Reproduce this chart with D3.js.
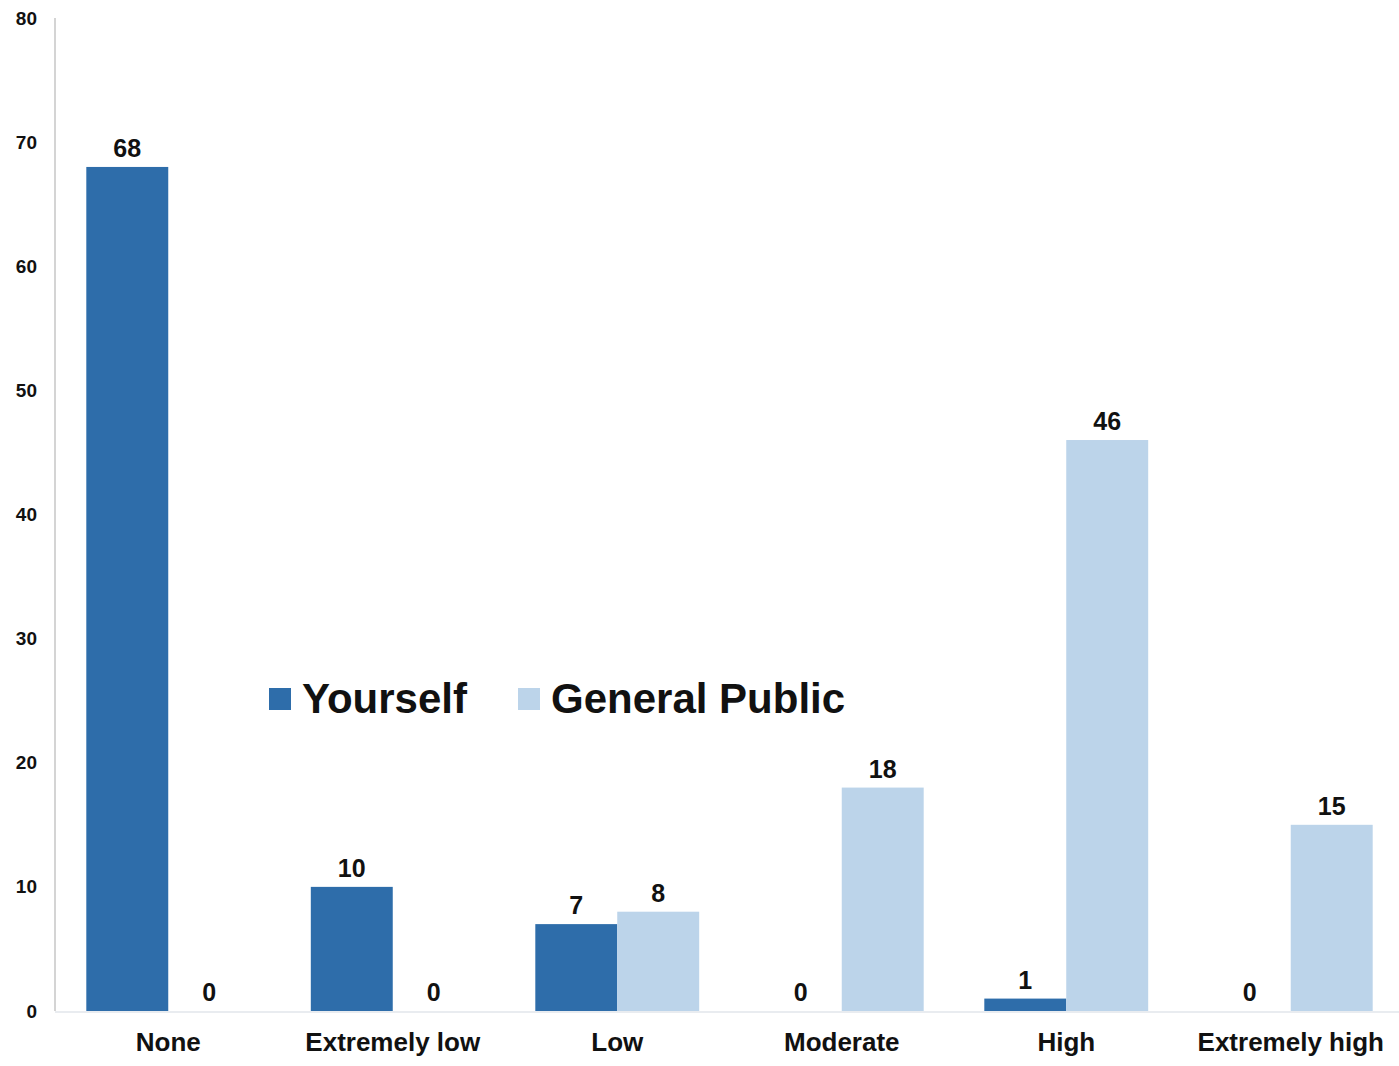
<!DOCTYPE html>
<html>
<head>
<meta charset="utf-8">
<script src="https://cdn.jsdelivr.net/npm/d3@7"></script>
<style>
  body { margin: 0; background: #fff; }
  text { font-family: 'Liberation Sans', Arial, sans-serif; font-weight: bold; fill: #111; }
</style>
</head>
<body>
<div id="chart"></div>
<script>
const categories = ['None', 'Extremely low', 'Low', 'Moderate', 'High', 'Extremely high']
const seriesNames = ['Yourself', 'General Public']
const yourself = [68, 10, 7, 0, 1, 0]
const generalPublic = [0, 0, 8, 18, 46, 15]
const yTicks = [0, 10, 20, 30, 40, 50, 60, 70, 80]
const colors = ['#2e6daa', '#bcd4ea']

const W = 1399
const H = 1066

const svg = d3.select('#chart')
  .append('svg')
  .attr('width', W)
  .attr('height', H)

const x = d3.scaleBand()
  .domain(categories)
  .range([56, 1403])
  .paddingInner(0.27)
  .paddingOuter(0.135)

const xs = d3.scaleBand()
  .domain(seriesNames)
  .range([0, x.bandwidth()])

const y = d3.scaleLinear()
  .domain([0, 80])
  .range([1011, 18])

// axis lines
svg.append('line')
  .attr('x1', 55).attr('x2', 55)
  .attr('y1', y(80)).attr('y2', y(0))
  .attr('stroke', '#d4d4d4')
  .attr('stroke-width', 2)

svg.append('line')
  .attr('x1', 55).attr('x2', W)
  .attr('y1', y(0) + 1).attr('y2', y(0) + 1)
  .attr('stroke', '#e9ecf0')
  .attr('stroke-width', 2)

// y axis labels
const yAxis = svg.append('g')
  .attr('transform', 'translate(55, 0)')
  .call(d3.axisLeft(y).tickValues(yTicks).tickSize(0).tickPadding(18))
yAxis.select('.domain').remove()
yAxis.selectAll('text')
  .attr('font-size', '19px')
  .attr('font-family', null)
  .attr('fill', '#111')

// x axis labels
const xAxis = svg.append('g')
  .attr('transform', `translate(0, ${y(0)})`)
  .call(d3.axisBottom(x).tickSize(0).tickPadding(22))
xAxis.select('.domain').remove()
xAxis.selectAll('text')
  .attr('font-size', '26px')
  .attr('font-family', null)
  .attr('fill', '#111')

const rows = categories.map((c, i) => ({
  cat: c,
  vals: [
    { key: seriesNames[0], v: yourself[i], color: colors[0] },
    { key: seriesNames[1], v: generalPublic[i], color: colors[1] },
  ],
}))

const groups = svg.selectAll('.grp')
  .data(rows)
  .enter()
  .append('g')
  .attr('class', 'grp')
  .attr('transform', d => `translate(${x(d.cat)}, 0)`)

groups.selectAll('rect')
  .data(d => d.vals)
  .enter()
  .append('rect')
  .attr('x', d => xs(d.key))
  .attr('y', d => y(d.v))
  .attr('width', xs.bandwidth())
  .attr('height', d => y(0) - y(d.v))
  .attr('fill', d => d.color)

groups.selectAll('.val')
  .data(d => d.vals)
  .enter()
  .append('text')
  .attr('class', 'val')
  .attr('x', d => xs(d.key) + xs.bandwidth() / 2)
  .attr('y', d => y(d.v) - 10)
  .attr('text-anchor', 'middle')
  .attr('font-size', '25px')
  .text(d => d.v)

// legend
const legend = svg.append('g')
const legendX = [269, 518]
seriesNames.forEach((name, i) => {
  legend.append('rect')
    .attr('x', legendX[i])
    .attr('y', 688)
    .attr('width', 22)
    .attr('height', 22)
    .attr('fill', colors[i])
  legend.append('text')
    .attr('x', legendX[i] + 33)
    .attr('y', 713)
    .attr('font-size', '42px')
    .text(name)
})
</script>
</body>
</html>
